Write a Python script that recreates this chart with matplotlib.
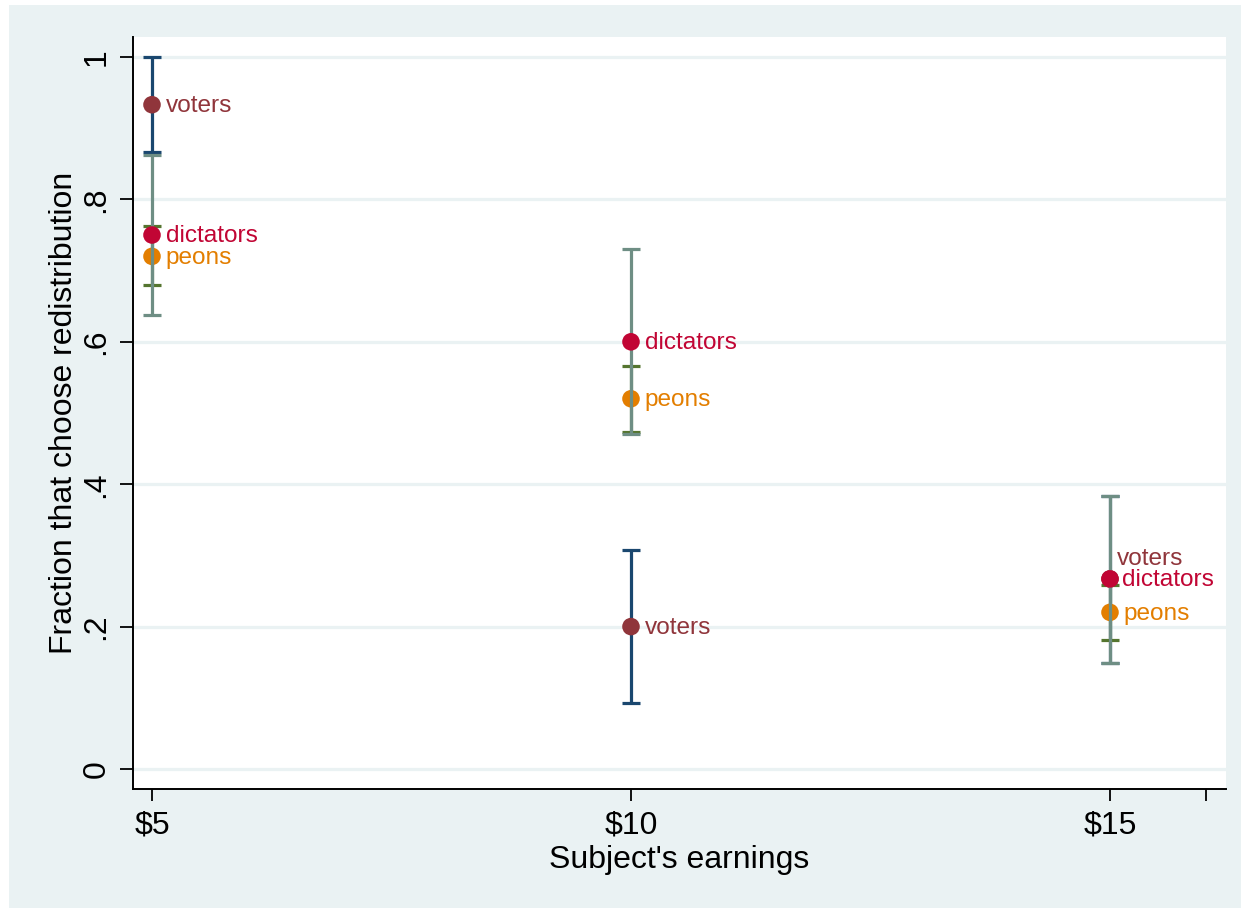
import matplotlib
matplotlib.use("Agg")
import matplotlib.pyplot as plt
from matplotlib.patches import Rectangle

plt.rcParams['font.family'] = ['Liberation Sans', 'DejaVu Sans']

# Subject's earnings (dollars)
earnings = [5, 10, 15]
earning_labels = ["$5", "$10", "$15"]

# fraction choosing redistribution, with lower/upper CI bounds
voters = [0.933, 0.200, 0.267]
voters_lo = [0.867, 0.093, 0.149]
voters_hi = [1.000, 0.307, 0.384]

peons = [0.720, 0.520, 0.220]
peons_lo = [0.680, 0.473, 0.181]
peons_hi = [0.763, 0.566, 0.258]

dictators = [0.750, 0.600, 0.267]
dictators_lo = [0.638, 0.470, 0.149]
dictators_hi = [0.863, 0.730, 0.384]

y_ticks = [0, 0.2, 0.4, 0.6, 0.8, 1.0]
y_tick_labels = ["0", ".2", ".4", ".6", ".8", "1"]

BG = "#eaf2f3"

fig = plt.figure(figsize=(12.41, 9.08), dpi=100, facecolor="white")
fig.add_artist(Rectangle((9 / 1241, 0), 1 - 9 / 1241, 903 / 908,
                         transform=fig.transFigure, facecolor=BG,
                         edgecolor="none", zorder=-10))

ax = fig.add_axes([133 / 1241, 119 / 908, 1093 / 1241, 752 / 908])
ax.set_facecolor("white")

# (name, values, lo, hi, ci colour, marker colour, label offsets in points)
series = [
    ("voters", voters, voters_lo, voters_hi, "#1a476f", "#90353b",
     [(10, -1), (10, -1), (5, 14)]),
    ("peons", peons, peons_lo, peons_hi, "#55752f", "#e37e00",
     [(10, -1), (10, -1), (10, -1)]),
    ("dictators", dictators, dictators_lo, dictators_hi, "#6e8e84", "#c10534",
     [(10, -1), (10, -1), (9, -1)]),
]

z = 3
for name, vals, lo, hi, ci_col, mk_col, offsets in series:
    err = [[v - l for v, l in zip(vals, lo)], [h - v for v, h in zip(vals, hi)]]
    ax.errorbar(earnings, vals, yerr=err, fmt="none", ecolor=ci_col,
                elinewidth=2.3, capsize=6.2, capthick=2.3, zorder=z)
    ax.scatter(earnings, vals, s=160, color=mk_col, zorder=z + 1,
               edgecolors="none")
    for x, v, off in zip(earnings, vals, offsets):
        ax.annotate(name, (x, v), xytext=off, textcoords="offset points",
                    ha="left", va="center", fontsize=17.6, color=mk_col,
                    zorder=z + 2)
    z += 3

ax.set_xlim(4.8017, 16.211)
ax.set_ylim(-0.0281, 1.0281)

ax.set_xticks(earnings + [16])
ax.set_xticklabels(earning_labels + [""], fontsize=23)
ax.set_yticks(y_ticks)
ax.set_yticklabels(y_tick_labels, fontsize=23, rotation=90, va="center")

ax.tick_params(axis="x", length=8.5, width=1.3, pad=7)
ax.tick_params(axis="y", length=9.5, width=1.3, pad=6)

ax.yaxis.grid(True, color=BG, linewidth=2.3)
ax.set_axisbelow(True)

for side in ["top", "right"]:
    ax.spines[side].set_visible(False)
for side in ["left", "bottom"]:
    ax.spines[side].set_linewidth(1.4)

ax.set_xlabel("Subject's earnings", fontsize=23, labelpad=3)
ax.set_ylabel("Fraction that choose redistribution", fontsize=23, labelpad=2)

fig.savefig("out.png", dpi=100, facecolor=fig.get_facecolor())
